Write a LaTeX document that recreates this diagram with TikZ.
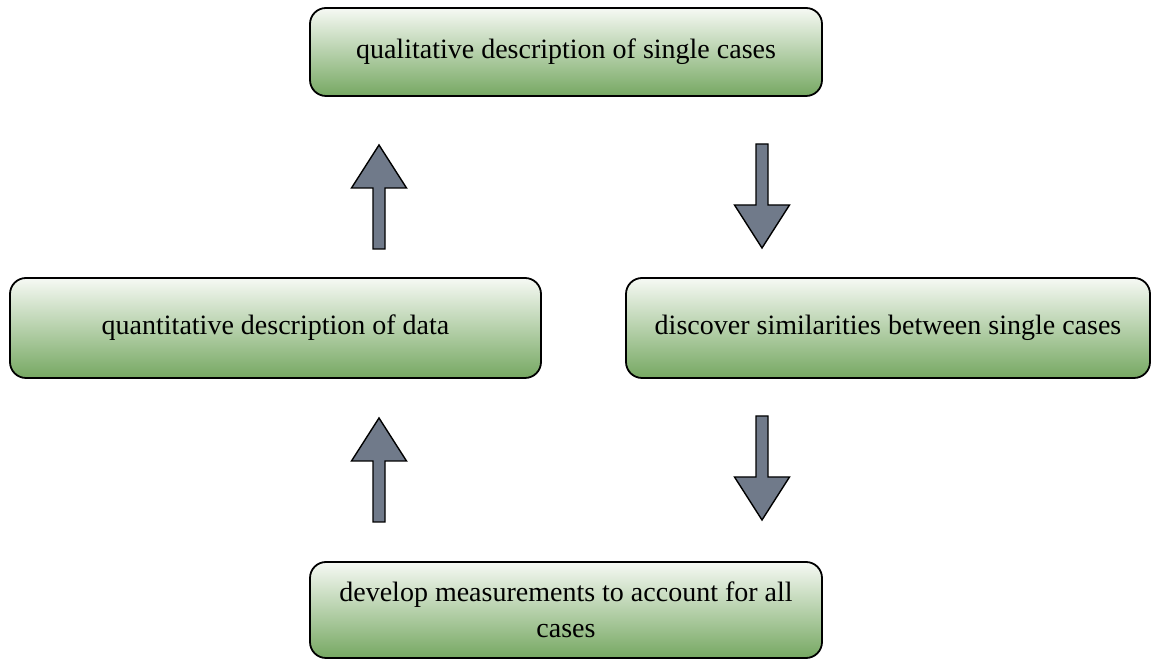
\documentclass[tikz,border=0pt]{standalone}
\usepackage{fontspec}
\setmainfont{Liberation Serif}
\begin{document}
\begin{tikzpicture}[x=1pt,y=1pt]
        %colores
        \definecolor{gtop}{RGB}{246,249,244}
        \definecolor{gbot}{RGB}{118,168,98}
        \definecolor{flecha}{RGB}{112,122,138}
        \tikzset{
            caja/.style={draw=black,line width=1.8pt,rounded corners=16pt,
                top color=gtop,bottom color=gbot,align=center,
                font=\fontsize{28}{36}\selectfont},
            bloque/.style={draw=black,line width=1.4pt,fill=flecha,line join=miter}
        }
        \useasboundingbox (0,0) rectangle (1151,660);

        % Cajas
        \node[caja,minimum width=512,minimum height=88] (cual) at (566,608) {qualitative description of single cases};
        \node[caja,minimum width=531,minimum height=100] (cuan) at (275.5,332) {quantitative description of data};
        \node[caja,minimum width=524,minimum height=100] (simil) at (888,332) {discover similarities between single cases};
        \node[caja,minimum width=512,minimum height=96] (medir) at (566,50) {develop measurements to account for all\\ cases};

        % Puntas de las flechas
        \coordinate (sube1) at (379,515);
        \coordinate (sube2) at (379,242);
        \coordinate (baja1) at (762,412);
        \coordinate (baja2) at (762,140);

        % Flechas de bloque
        \foreach \punta/\giro in {sube1/0,sube2/0,baja1/180,baja2/180}
        \draw[bloque,shift={(\punta)},rotate=\giro] (0,0) -- (-27.5,-43) -- (-6,-43) -- (-6,-104)
            -- (6,-104) -- (6,-43) -- (27.5,-43) -- cycle;
    \end{tikzpicture}
\end{document}
